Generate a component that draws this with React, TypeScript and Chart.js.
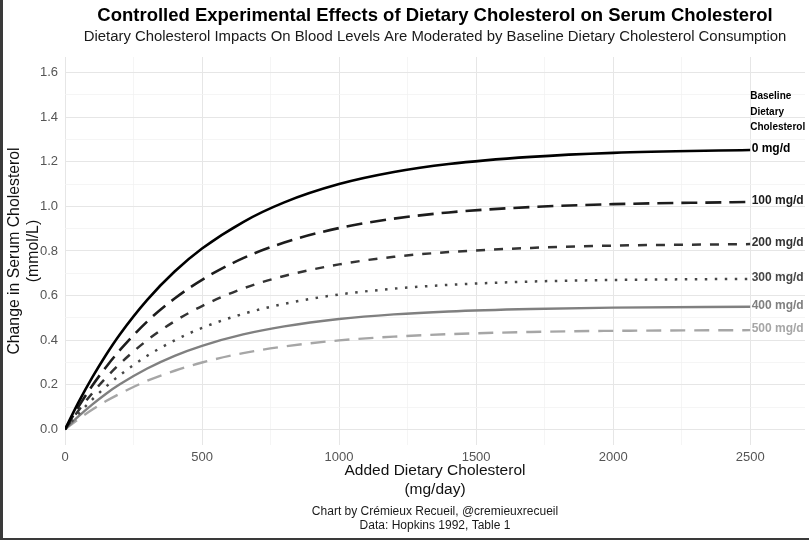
import { useEffect, useRef } from 'react';
import { Chart, registerables } from 'chart.js';

Chart.register(...registerables);

// ---- data ----
const addedCholesterol = [0, 50, 100, 150, 200, 300, 400, 500, 650, 800, 1000, 1200, 1400, 1700, 2000, 2500];
const baseline0 = [0, 0.123, 0.234, 0.335, 0.426, 0.581, 0.708, 0.811, 0.93, 1.018, 1.1, 1.154, 1.19, 1.222, 1.24, 1.253];
const baseline100 = [0, 0.103, 0.197, 0.28, 0.355, 0.484, 0.587, 0.671, 0.768, 0.838, 0.903, 0.945, 0.973, 0.997, 1.01, 1.02];
const baseline200 = [0, 0.086, 0.163, 0.232, 0.294, 0.4, 0.485, 0.553, 0.632, 0.688, 0.74, 0.774, 0.795, 0.814, 0.824, 0.831];
const baseline300 = [0, 0.071, 0.135, 0.192, 0.243, 0.33, 0.399, 0.455, 0.518, 0.563, 0.605, 0.631, 0.648, 0.663, 0.67, 0.675];
const baseline400 = [0, 0.059, 0.112, 0.16, 0.202, 0.273, 0.33, 0.375, 0.426, 0.462, 0.495, 0.516, 0.529, 0.54, 0.546, 0.55];
const baseline500 = [0, 0.047, 0.089, 0.127, 0.16, 0.218, 0.263, 0.3, 0.342, 0.372, 0.399, 0.416, 0.427, 0.437, 0.442, 0.445];

const seriesValues = [baseline0, baseline100, baseline200, baseline300, baseline400, baseline500];
const seriesLabels = ['0 mg/d', '100 mg/d', '200 mg/d', '300 mg/d', '400 mg/d', '500 mg/d'];
const legendHeader = ['Baseline', 'Dietary', 'Cholesterol'];

const xMajorTicks = [0, 500, 1000, 1500, 2000, 2500];
const xMinorTicks = [250, 750, 1250, 1750, 2250];
const yMajorTicks = [0, 0.2, 0.4, 0.6, 0.8, 1.0, 1.2, 1.4, 1.6];
const yMinorTicks = [0.1, 0.3, 0.5, 0.7, 0.9, 1.1, 1.3, 1.5];

const titleText = 'Controlled Experimental Effects of Dietary Cholesterol on Serum Cholesterol';
const subtitleText =
  'Dietary Cholesterol Impacts On Blood Levels Are Moderated by Baseline Dietary Cholesterol Consumption';
const captionLines = ['Chart by Crémieux Recueil, @cremieuxrecueil', 'Data: Hopkins 1992, Table 1'];
const xTitle = ['Added Dietary Cholesterol', '(mg/day)'];
const yTitle = ['Change in Serum Cholesterol', '(mmol/L)'];

// ---- styles ----
const FONT = '"Liberation Sans", Arial, Helvetica, sans-serif';
const lineColors = ['#000000', '#1c1c1c', '#333333', '#474747', '#808080', '#a6a6a6'];
const labelColors = ['#000000', '#1c1c1c', '#333333', '#474747', '#7f7f7f', '#a6a6a6'];
const dashes: number[][] = [[], [16, 8], [9, 9], [2.5, 7.5], [], [15, 9]];
const widths = [2.6, 2.6, 2.5, 2.5, 2.4, 2.4];

const textPlugin = {
  id: 'textPlugin',
  afterDraw(chart: any) {
    const { ctx, chartArea, scales } = chart;
    const cx = (chartArea.left + chartArea.right) / 2;
    ctx.save();
    ctx.textAlign = 'center';
    ctx.textBaseline = 'middle';
    ctx.fillStyle = '#000';
    ctx.font = `bold 18.5px ${FONT}`;
    ctx.fillText(titleText, cx, 16);
    ctx.fillStyle = '#1a1a1a';
    ctx.font = `14.9px ${FONT}`;
    ctx.fillText(subtitleText, cx, 37);
    ctx.font = `12px ${FONT}`;
    ctx.fillStyle = '#1a1a1a';
    captionLines.forEach((t, i) => ctx.fillText(t, cx, chart.height - 28 + i * 14));

    // end-of-line labels
    const x = scales.x;
    const y = scales.y;
    ctx.textAlign = 'left';
    const lastX = addedCholesterol[addedCholesterol.length - 1];
    const px = x.getPixelForValue(lastX) + 1.5;
    ctx.font = `bold 12px ${FONT}`;
    seriesValues.forEach((vals, i) => {
      ctx.fillStyle = labelColors[i];
      ctx.fillText(seriesLabels[i], px, y.getPixelForValue(vals[vals.length - 1]) - 1);
    });
    ctx.font = `bold 10px ${FONT}`;
    ctx.fillStyle = '#000';
    legendHeader.forEach((t, i) => ctx.fillText(t, px - 1.5, chartArea.top + 39.5 + i * 15.5));
    ctx.restore();
  },
};

export default function App() {
  const canvasRef = useRef<HTMLCanvasElement | null>(null);

  useEffect(() => {
    document.body.style.margin = '0';
    const canvas = canvasRef.current;
    if (!canvas) return;
    const datasets = seriesValues.map((vals, i) => ({
      label: seriesLabels[i],
      data: vals.map((v, j) => ({ x: addedCholesterol[j], y: v })),
      borderColor: lineColors[i],
      backgroundColor: lineColors[i],
      borderWidth: widths[i],
      borderDash: dashes[i],
      borderCapStyle: 'butt' as const,
      pointRadius: 0,
      fill: false,
      cubicInterpolationMode: 'monotone' as const,
    }));

    const chart = new Chart(canvas, {
      type: 'line',
      data: { datasets },
      options: {
        animation: false,
        responsive: false,
        devicePixelRatio: 1,
        layout: { padding: { top: 57, right: 4, bottom: 35, left: 0 } },
        plugins: {
          legend: { display: false },
          tooltip: { enabled: false },
          title: { display: false },
        },
        scales: {
          x: {
            type: 'linear',
            min: 0,
            max: 2700,
            afterBuildTicks: (s: any) => {
              s.ticks = [...xMajorTicks, ...xMinorTicks].sort((a, b) => a - b).map((v) => ({ value: v }));
            },
            afterFit: (s: any) => {
              s.height = 60;
            },
            border: { display: false },
            grid: {
              drawTicks: false,
              color: (c: any) => (xMajorTicks.includes(c.tick?.value) ? '#e6e6e6' : '#f2f2f2'),
              lineWidth: (c: any) => (xMajorTicks.includes(c.tick?.value) ? 1 : 0.8),
            },
            ticks: {
              padding: 5,
              color: '#555',
              font: { family: FONT, size: 13 },
              maxRotation: 0,
              autoSkip: false,
              callback: (v: any) => (xMajorTicks.includes(v) ? String(v) : ''),
            },
            title: {
              display: true,
              text: xTitle,
              color: '#111',
              font: { family: FONT, size: 15.5 },
              padding: { top: 0, bottom: 6 },
            },
          },
          y: {
            type: 'linear',
            min: -0.07,
            max: 1.67,
            afterBuildTicks: (s: any) => {
              s.ticks = [...yMajorTicks, ...yMinorTicks].sort((a, b) => a - b).map((v) => ({ value: v }));
            },
            afterFit: (s: any) => {
              s.width = 65;
            },
            border: { display: false },
            grid: {
              drawTicks: false,
              color: (c: any) => (yMajorTicks.includes(c.tick?.value) ? '#e6e6e6' : '#f2f2f2'),
              lineWidth: (c: any) => (yMajorTicks.includes(c.tick?.value) ? 1 : 0.8),
            },
            ticks: {
              padding: 7,
              color: '#555',
              font: { family: FONT, size: 13 },
              autoSkip: false,
              callback: (v: any) => (yMajorTicks.includes(v) ? Number(v).toFixed(1) : ''),
            },
            title: {
              display: true,
              text: yTitle,
              color: '#111',
              font: { family: FONT, size: 15.8 },
              padding: { top: 5, bottom: 0 },
            },
          },
        },
      },
      plugins: [textPlugin],
    });
    return () => chart.destroy();
  }, []);

  return (
    <div style={{ position: 'relative', width: 809, height: 540, background: '#fff', overflow: 'hidden' }}>
      <canvas ref={canvasRef} width={809} height={540} style={{ display: 'block' }} />
      <div style={{ position: 'absolute', left: 0, top: 0, width: 3, height: 540, background: '#3a3a3a' }} />
      <div style={{ position: 'absolute', left: 0, bottom: 0, width: 809, height: 2, background: '#3a3a3a' }} />
    </div>
  );
}
